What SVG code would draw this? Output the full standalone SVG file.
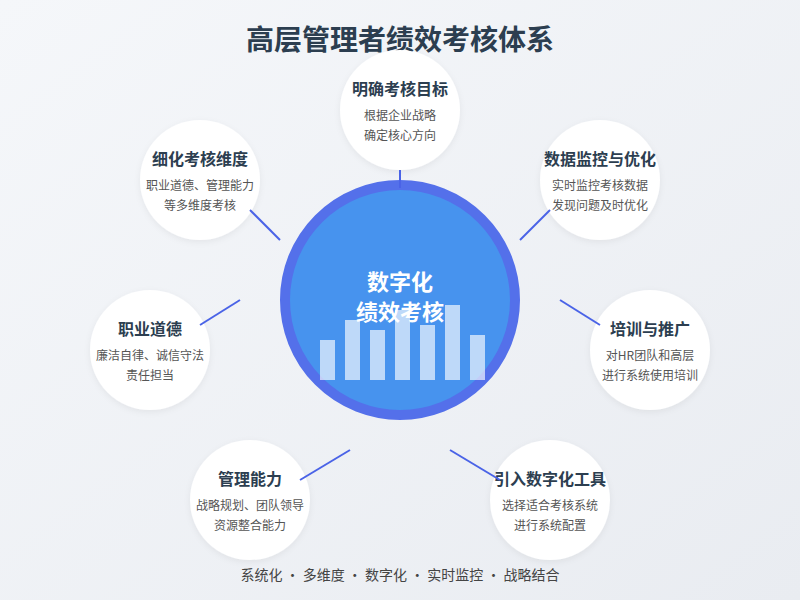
<svg xmlns="http://www.w3.org/2000/svg" width="800" height="600" viewBox="0 0 800 600">
<defs>
<linearGradient id="bg" x1="0" y1="0" x2="1" y2="1"><stop offset="0" stop-color="#f5f7fa"/><stop offset="1" stop-color="#e9ecf1"/></linearGradient>
<filter id="sh" x="-20%" y="-20%" width="140%" height="140%"><feDropShadow dx="0" dy="2" stdDeviation="3" flood-color="#000" flood-opacity="0.06"/></filter>
</defs>
<style>
text{font-family:"Noto Sans CJK SC","Noto Sans",sans-serif;text-anchor:middle}
.n{fill:#fff;filter:url(#sh)}
.t{font-size:16px;font-weight:bold;fill:#2c3e50}
.s{font-size:12px;fill:#555}
.c line{stroke:#4a63e7;stroke-width:2}
.bar{fill:#fff;opacity:0.65}
</style>
<rect width="800" height="600" fill="url(#bg)"/>
<text x="400" y="50" style="font-size:28px;font-weight:bold;fill:#2c3e50">高层管理者绩效考核体系</text>
<g id="center">
<circle cx="400" cy="300" r="115" fill="#4793ee" stroke="#5470ea" stroke-width="10"/>
<text x="400" y="290" style="font-size:22px;font-weight:bold;fill:#fff">数字化</text>
<text x="400" y="320" style="font-size:22px;font-weight:bold;fill:#fff">绩效考核</text>
<rect class="bar" x="320" y="340" width="15" height="40"/>
<rect class="bar" x="345" y="320" width="15" height="60"/>
<rect class="bar" x="370" y="330" width="15" height="50"/>
<rect class="bar" x="395" y="310" width="15" height="70"/>
<rect class="bar" x="420" y="325" width="15" height="55"/>
<rect class="bar" x="445" y="305" width="15" height="75"/>
<rect class="bar" x="470" y="335" width="15" height="45"/>
</g>
<g id="n1"><circle class="n" cx="400" cy="110" r="60"/><text class="t" x="400" y="95">明确考核目标</text><text class="s" x="400" y="120">根据企业战略</text><text class="s" x="400" y="140">确定核心方向</text></g>
<g id="n2"><circle class="n" cx="200" cy="180" r="60"/><text class="t" x="200" y="165">细化考核维度</text><text class="s" x="200" y="190">职业道德、管理能力</text><text class="s" x="200" y="210">等多维度考核</text></g>
<g id="n3"><circle class="n" cx="600" cy="180" r="60"/><text class="t" x="600" y="165">数据监控与优化</text><text class="s" x="600" y="190">实时监控考核数据</text><text class="s" x="600" y="210">发现问题及时优化</text></g>
<g id="n4"><circle class="n" cx="150" cy="350" r="60"/><text class="t" x="150" y="335">职业道德</text><text class="s" x="150" y="360">廉洁自律、诚信守法</text><text class="s" x="150" y="380">责任担当</text></g>
<g id="n5"><circle class="n" cx="650" cy="350" r="60"/><text class="t" x="650" y="335">培训与推广</text><text class="s" x="650" y="360">对HR团队和高层</text><text class="s" x="650" y="380">进行系统使用培训</text></g>
<g id="n6"><circle class="n" cx="250" cy="500" r="60"/><text class="t" x="250" y="485">管理能力</text><text class="s" x="250" y="510">战略规划、团队领导</text><text class="s" x="250" y="530">资源整合能力</text></g>
<g id="n7"><circle class="n" cx="550" cy="500" r="60"/><text class="t" x="550" y="485">引入数字化工具</text><text class="s" x="550" y="510">选择适合考核系统</text><text class="s" x="550" y="530">进行系统配置</text></g>
<g id="connectors" class="c">
<line x1="400" y1="170" x2="400" y2="188"/>
<line x1="250" y1="210" x2="280" y2="240"/>
<line x1="520" y1="240" x2="550" y2="210"/>
<line x1="200" y1="325" x2="240" y2="300"/>
<line x1="560" y1="300" x2="600" y2="325"/>
<line x1="300" y1="480" x2="350" y2="450"/>
<line x1="450" y1="450" x2="500" y2="480"/>
</g>
<text x="400" y="580" style="font-size:14px;fill:#444">系统化 · 多维度 · 数字化 · 实时监控 · 战略结合</text>
</svg>
